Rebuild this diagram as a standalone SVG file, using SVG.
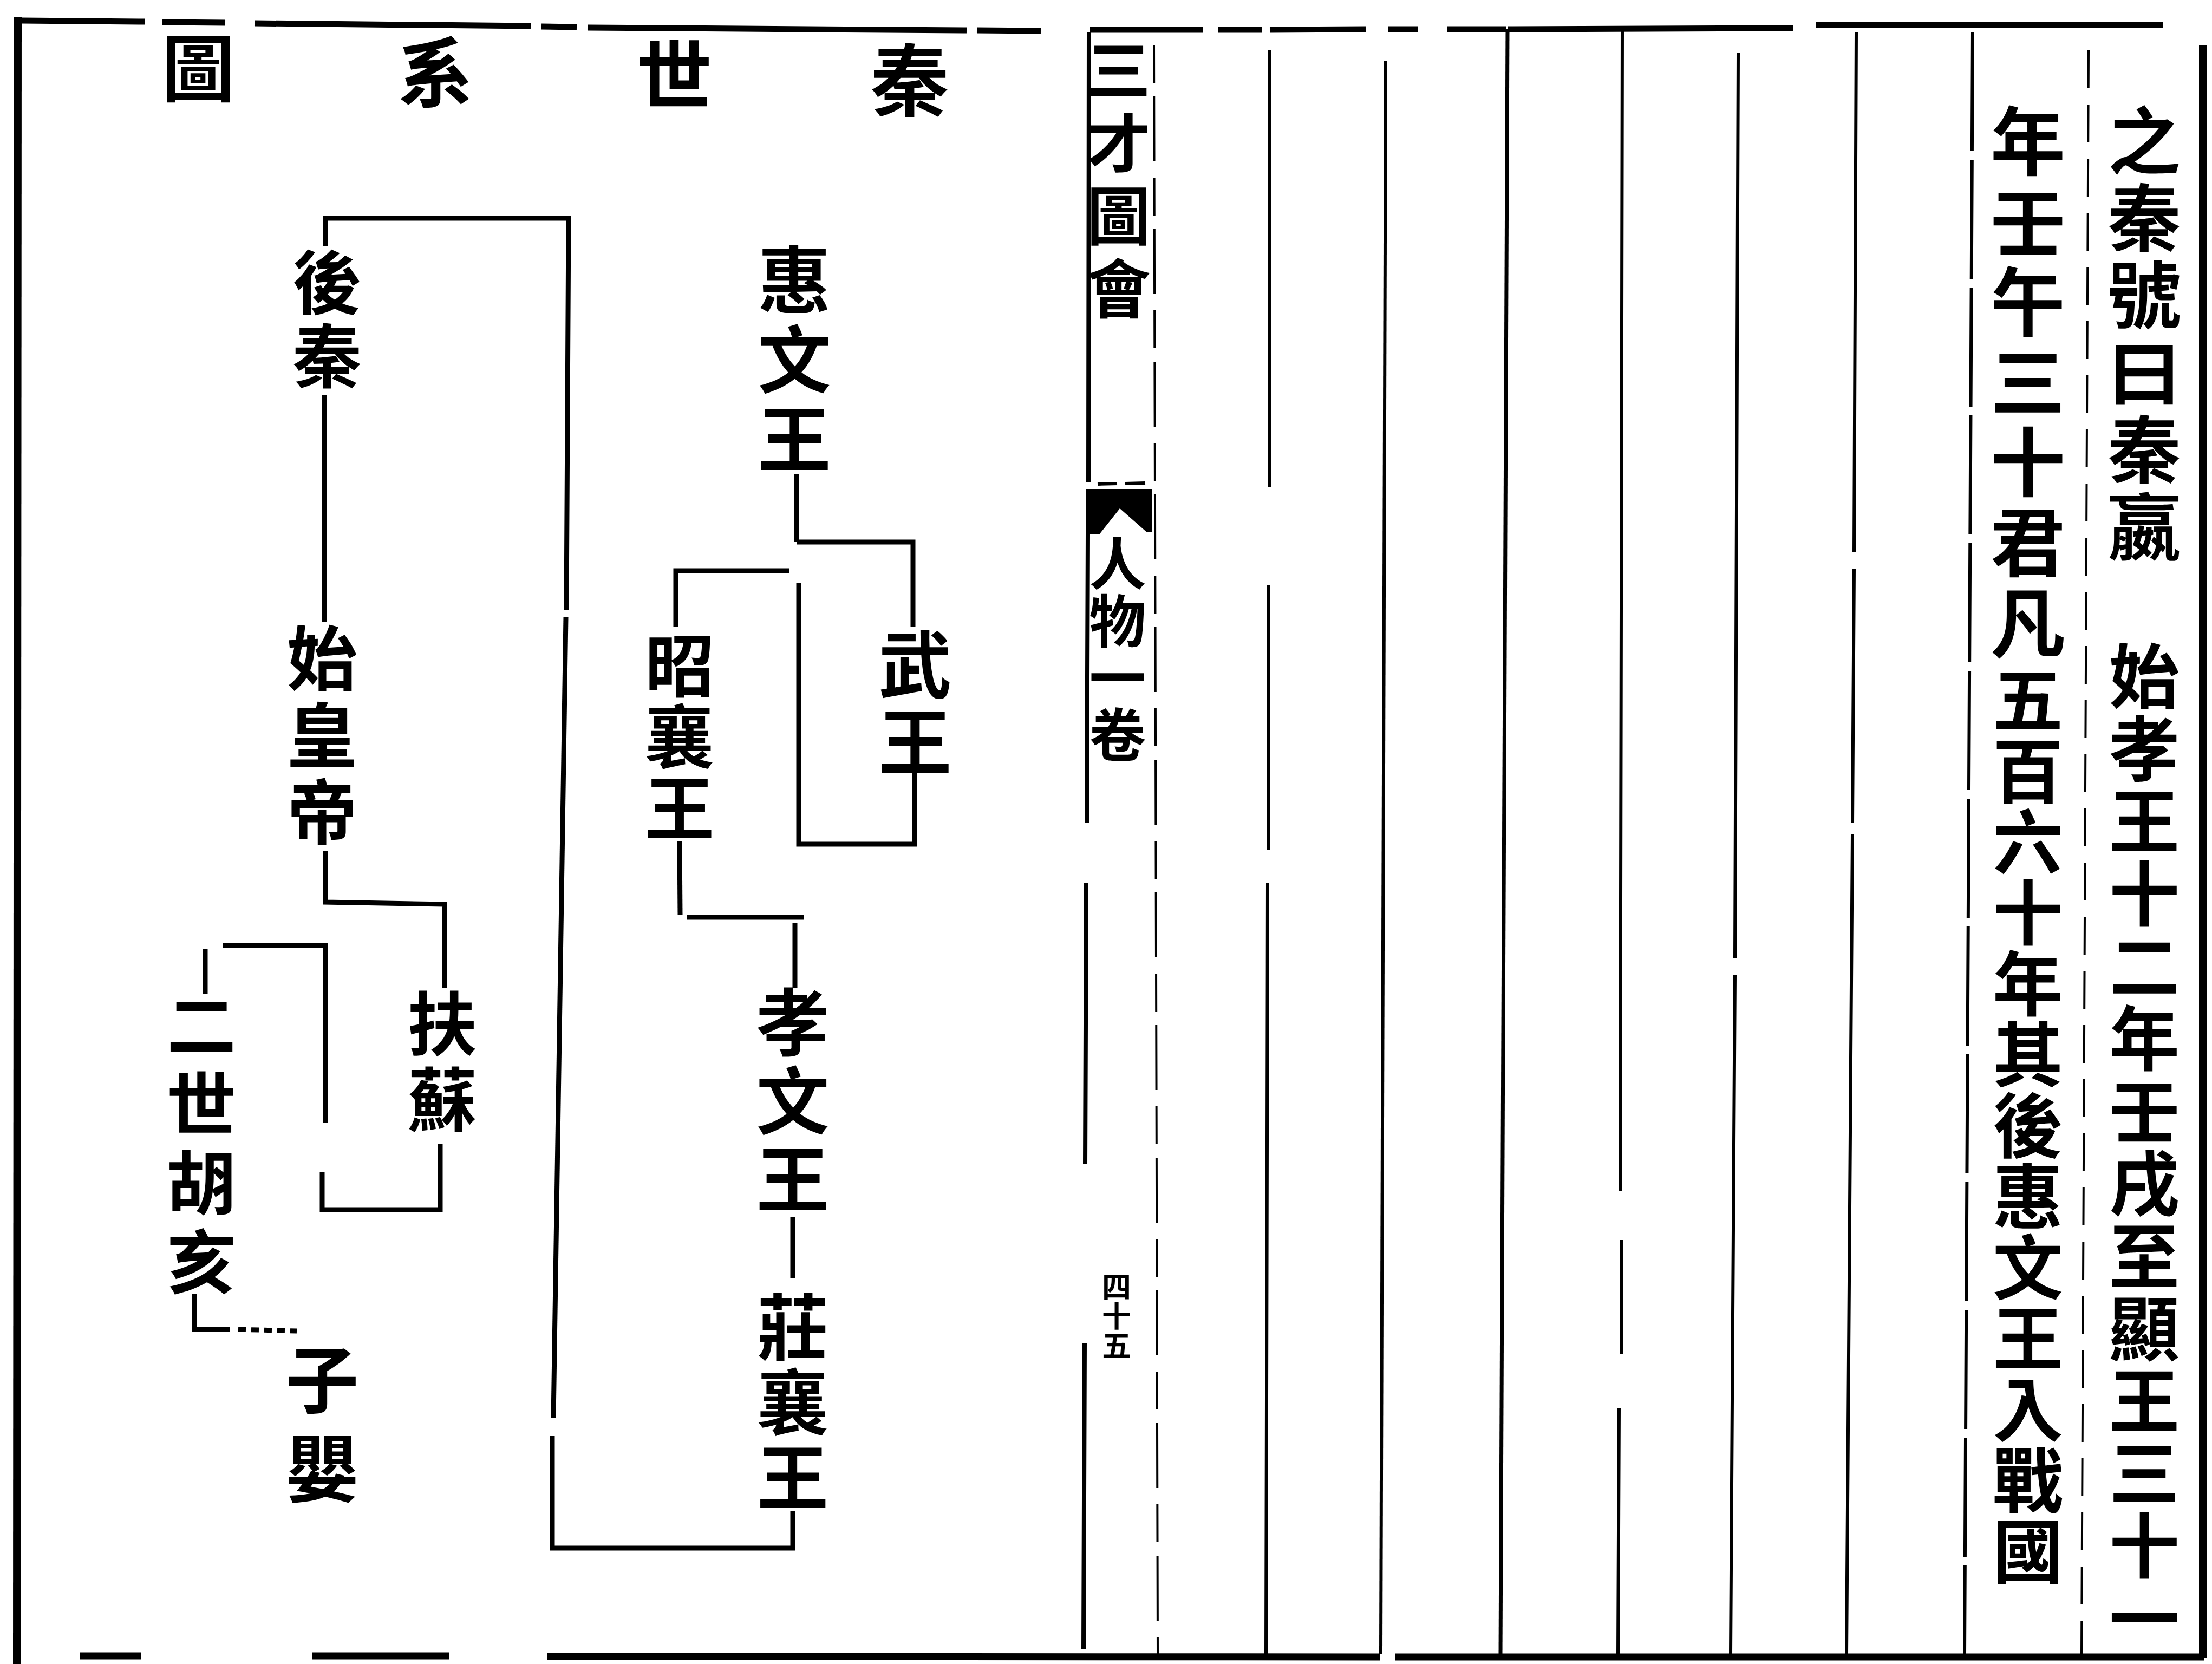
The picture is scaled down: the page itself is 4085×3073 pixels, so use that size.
<svg xmlns="http://www.w3.org/2000/svg" width="4085" height="3073" viewBox="0 0 4085 3073">
<style>
.t{font-family:"Noto Sans CJK TC","Noto Sans CJK SC",sans-serif;font-weight:700;fill:#000;text-anchor:middle;dominant-baseline:central}
.v{font-family:"Noto Sans CJK TC","Noto Sans CJK SC",sans-serif;font-weight:700;fill:#000;writing-mode:vertical-rl;text-orientation:upright;text-anchor:start}
.ln{stroke:#000;fill:none;stroke-width:9;stroke-linecap:butt;stroke-linejoin:miter}
.fr{stroke:#000;fill:none;stroke-linecap:butt}
</style>
<rect x="0" y="0" width="4085" height="3073" fill="#fff"/>
<g id="frame">
<path class="fr" stroke-width="14" d="M33,32 L31,3073"/>
<path class="fr" stroke-width="14" d="M4068,83 L4068,3062"/>
<path class="fr" stroke-width="11" d="M40,38 L268,40 M300,41 L416,42 M470,43 L980,48 M1000,49 L1065,50 M1085,51 L1785,56 M1804,56 L1922,57 M2013,55 L2222,55 M2250,55 L2331,55 M2345,55 L2522,54 M2563,54 L2618,54 M2672,54 L2781,54 M2784,54 L3312,52 M3353,46 L3994,46"/>
<path class="fr" stroke-width="13" d="M147,3058 L261,3058 M576,3058 L830,3058 M1010,3059 L2549,3060 M2577,3060 L4070,3060"/>
<path class="fr" stroke-width="8" d="M2011,59 L2010,890 M2009,985 L2007,1520 M2006,1630 L2004,2150 M2003,2480 L2001,3045"/>
<path class="fr" stroke-width="4" stroke-dasharray="70 25 120 30" d="M2131,83 L2138,3055"/>
<path class="fr" stroke-width="6" d="M2345,93 L2344,900 M2343,1080 L2342,1570 M2341,1630 L2338,3055"/>
<path class="fr" stroke-width="6" d="M2559,113 L2550,3055"/>
<path class="fr" stroke-width="7" d="M2784,54 L2771,3055"/>
<path class="fr" stroke-width="6" d="M2996,54 L2992,2200 M2994,2290 L2994,2500 M2990,2600 L2988,3055"/>
<path class="fr" stroke-width="6" d="M3210,98 L3204,1770 M3204,1800 L3196,3055"/>
<path class="fr" stroke-width="6" d="M3428,59 L3424,1020 M3424,1050 L3421,1520 M3421,1540 L3410,3055"/>
<path class="fr" stroke-width="6" stroke-dasharray="220 16" d="M3643,59 L3628,3055"/>
<path class="fr" stroke-width="4" stroke-dasharray="70 30" d="M3857,93 L3844,3055"/>
<polygon fill="#000" points="2005,903 2128,903 2128,983 2118,983 2068,939 2030,987 2005,987"/>
<path class="fr" stroke-width="6" d="M2027,894 L2063,893 M2078,893 L2115,892"/>
</g>
<g id="title">
<text class="t" x="1680" y="140" font-size="145">秦</text>
<text class="t" x="1245" y="130" font-size="140">世</text>
<text class="t" x="804" y="125" font-size="140">系</text>
<text class="t" x="366" y="118" font-size="135">圖</text>
</g>
<g id="connectors">
<path class="ln" d="M601,455 L601,403 L1050,403 L1046,1126"/>
<path class="ln" stroke-width="10" d="M1045,1140 L1022,2619"/>
<path class="ln" stroke-width="10" d="M1020,2652 L1020,2859 L1464,2859 L1464,2790"/>
<path class="ln" d="M599,729 L599,1148"/>
<path class="ln" d="M601,1572 L601,1666 L821,1670 L821,1825"/>
<path class="ln" d="M379,1835 L379,1752 M412,1746 L601,1746 L601,2074"/>
<path class="ln" d="M813,2112 L813,2234 L595,2234 L595,2164"/>
<path class="ln" d="M359,2389 L359,2455 L425,2455"/>
<path class="ln" stroke-width="4" stroke-dasharray="14 10" d="M440,2455 L548,2458"/>
<path class="ln" stroke-width="6" d="M1471,876 L1471,1001"/>
<path class="ln" d="M1471,1001 L1686,1001 L1686,1157"/>
<path class="ln" d="M1689,1425 L1689,1559 L1475,1559 L1475,1077"/>
<path class="ln" d="M1458,1054 L1248,1054 L1248,1157"/>
<path class="ln" d="M1255,1554 L1256,1689"/>
<path class="ln" d="M1268,1694 L1484,1694 M1468,1705 L1468,1825"/>
<path class="ln" d="M1464,2248 L1464,2361"/>
</g>
<g id="n-houqin"><text class="v" x="604" y="457" font-size="128" letter-spacing="8">後秦</text></g>
<g id="n-shihuangdi"><text class="v" x="595" y="1150" font-size="130" letter-spacing="12">始皇帝</text></g>
<g id="n-fusu"><text class="v" x="817" y="1826" font-size="128" letter-spacing="12">扶蘇</text></g>
<g id="n-ershihuhai"><text class="v" x="372" y="1829" font-size="128" letter-spacing="17.7">二世胡亥</text></g>
<g id="n-ziying"><text class="v" x="595" y="2480" font-size="135" letter-spacing="29">子嬰</text></g>
<g id="n-huiwenwang"><text class="v" x="1467" y="449" font-size="135" letter-spacing="12">惠文王</text></g>
<g id="n-wuwang"><text class="v" x="1690" y="1160" font-size="135" letter-spacing="7">武王</text></g>
<g id="n-zhaoxiangwang"><text class="v" x="1255" y="1164" font-size="128" letter-spacing="4">昭襄王</text></g>
<g id="n-xiaowenwang"><text class="v" x="1464" y="1820" font-size="135" letter-spacing="10">孝文王</text></g>
<g id="n-zhuangxiangwang"><text class="v" x="1464" y="2384" font-size="132" letter-spacing="7">莊襄王</text></g>
<g id="banxin-title"><text class="v" x="2066" y="70" font-size="118" letter-spacing="16.7">三才圖會</text></g>
<g id="banxin-juan"><text class="v" x="2064" y="988" font-size="105" letter-spacing="0.3">人物一卷</text></g>
<g id="banxin-page"><text class="v" x="2062" y="2349" font-size="54" letter-spacing="0.5">四十五</text></g>
<g id="col-1">
<text class="v" x="3960" y="192" font-size="135" letter-spacing="7.6">之秦號曰秦嬴</text>
<text class="v" x="3960" y="1183" font-size="130" letter-spacing="3.8">始孝王十二年壬戌至顯王三十一</text>
</g>
<g id="col-2">
<text class="v" x="3745" y="191" font-size="138" letter-spacing="10.2">年壬午三十君凡</text>
<text class="v" x="3745" y="1227" font-size="130" letter-spacing="1">五百六十年其後惠文王入戰國</text>
</g>
</svg>
